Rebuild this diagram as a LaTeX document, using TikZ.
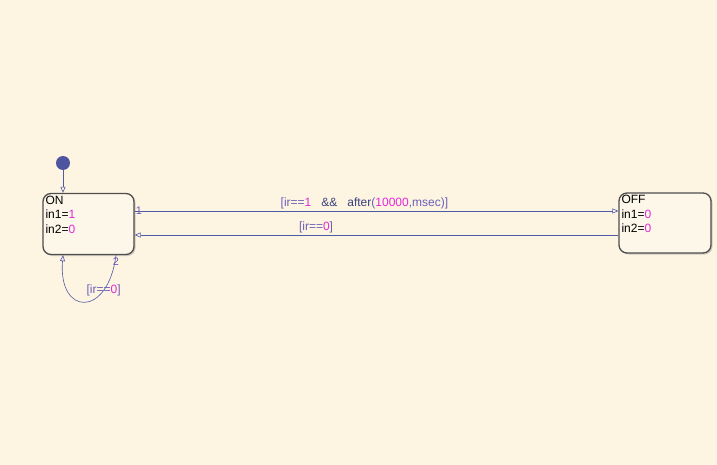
\documentclass[tikz,border=0pt]{standalone}
\usepackage{fontspec}
\setmainfont{Liberation Sans}
\usetikzlibrary{arrows.meta,shadows,positioning}

\definecolor{chartbg}{RGB}{254,244,226}
\definecolor{statefill}{RGB}{253,247,234}
\definecolor{stateline}{RGB}{78,78,78}
\definecolor{transline}{RGB}{80,90,165}
\definecolor{guardcol}{RGB}{105,95,185}
\definecolor{keycol}{RGB}{55,65,125}
\definecolor{numcol}{RGB}{225,40,215}

\newcommand{\num}[1]{\textcolor{numcol}{#1}}

\begin{document}
\begin{tikzpicture}[x=1pt, y=-1pt, node distance = 576.5pt,
    state/.style = {rectangle, rounded corners=8pt, draw=stateline, line width=1.3pt,
      fill=statefill, minimum width=91pt, minimum height=61pt,
      drop shadow={shadow xshift=1.5pt, shadow yshift=-1.5pt, opacity=.3, fill=black!60}},
    statetext/.style = {anchor=north west, align=left, inner sep=0pt,
      font=\fontsize{12}{14.5}\selectfont},
    trans/.style = {draw=transline, line width=.6pt,
      -{Triangle[open, length=6pt, width=5pt]}},
    guard/.style = {text=guardcol, inner sep=1.5pt, font=\fontsize{12}{13}\selectfont},
    order/.style = {text=guardcol, inner sep=1pt, font=\fontsize{11}{12}\selectfont}]

  \fill[chartbg] (0,0) rectangle (717,465);
  \useasboundingbox (0,0) rectangle (717,465);

  % states
  \node[state] at (88.5,224) (on) {};
  \node[state, right of = on, minimum width=92pt, minimum height=60pt, yshift=1pt] (off) {};
  \node[statetext] at ([shift={(3pt,-3pt)}]on.north west) (ontext) {ON\\in1=\num{1}\\in2=\num{0}};
  \node[statetext] at ([shift={(3pt,-3pt)}]off.north west) (offtext) {OFF\\in1=\num{0}\\in2=\num{0}};

  % default transition
  \node[circle, fill=transline!95!black, minimum size=14pt, inner sep=0pt] at (63,163) (init) {};
  \draw[trans] (init) -- ([xshift=-25.5pt]on.north);

  % transitions
  \draw[trans] ([yshift=13pt]on.east) -- node[guard, above, pos=.475]
    {[ir==\num{1}\hspace{10pt}\textcolor{keycol}{\&\&}\hspace{10pt}\textcolor{keycol}{after}(\num{10000},msec)]}
    node[order, at start, anchor=west] {1} ([yshift=12pt]off.west);
  \draw[trans] ([yshift=-12pt]off.west) -- node[guard, above, pos=.625] {[ir==\num{0}]}
    ([yshift=-11pt]on.east);
  \draw[trans] ([xshift=27.5pt]on.south) .. controls +(-8,63) and +(-5,61) ..
    node[guard, pos=.25] {[ir==\num{0}]}
    node[order, at start, anchor=north, yshift=-1pt] {2} ([xshift=-25.5pt]on.south);

\end{tikzpicture}
\end{document}
